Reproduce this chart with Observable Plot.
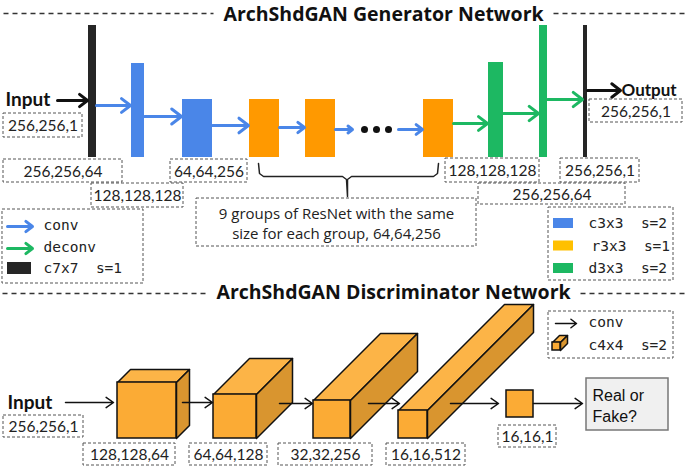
<!DOCTYPE html>
<html><head><meta charset="utf-8">
<script src="https://cdn.jsdelivr.net/npm/d3@7"></script>
<script src="https://cdn.jsdelivr.net/npm/@observablehq/plot@0.6"></script>
<style>body{margin:0;background:#fff} svg{display:block}</style>
</head><body><div id="chart"></div>
<script>
// ---------- content (data) ----------
const genTitle = "ArchShdGAN Generator Network";
const discTitle = "ArchShdGAN Discriminator Network";
const genKinds = ["c7x7","c3x3","c3x3","r3x3","r3x3","r3x3","d3x3","d3x3","c7x7"];
const genArrowKinds = ["conv","conv","conv","conv","conv","conv","deconv","deconv","deconv"];
const genLabels = ["256,256,1","256,256,1","256,256,64","128,128,128","64,64,256","128,128,128","256,256,1","256,256,64"];
const discLabels = ["256,256,1","128,128,64","64,64,128","32,32,256","16,16,512","16,16,1"];
const genLegendArrows = ["conv","deconv"];
const genLegendBlocks = ["c3x3\u00a0 s=2","r3x3\u00a0 s=1","d3x3\u00a0 s=2"];
const resnetNote = "9 groups of ResNet with the same\nsize for each group, 64,64,256";
const output = "Real or\nFake?";

// ---------- layout (diagram coordinates) ----------
const colorOf = {c7x7:"#262626", c3x3:"#4a86e8", r3x3:"#ff9900", d3x3:"#1db862", conv:"#4a86e8", deconv:"#1db862"};
const genBarPos = [[88,96,25,157],[131,144,63,157],[182,212,99,157],[249,279,99,157],[305,335,99,157],[423,453,99,157],[488,503,62,157],[539,547,25,157],[583,587,25,157]];
const genArrowPos = [[96,130,105],[144,181,116],[212,248,125],[279,304,127],[335,352,129],[398,422,129],[453,487,123],[503,538,113],[547,582,99]];
const genLabelPos = [[3,82,113,137],[589,682,99,122],[3,122,159,182],[91,183,183,207],[170,247,159,182],[445,539,158,182],[560,639,158,182],[478,625,183,204]];
const discLabelPos = [[3,83,415,437],[83,175,443,465],[189,267,443,465],[278,372,443,465],[386,465,443,465],[498,556,425,447]];
const cubePos = [[117,176,382,438,13],[213,256,394,438,36],[313,350,400,438,67],[398,427,410,438,106],[552,560,342,350,7]];
const discArrowPos = [[65,113,402],[182,212,402],[279,312,403],[368,399,403],[450,498,403],[533,582,403]];

const genBars = genKinds.map((k,i)=>({kind:k, x1:genBarPos[i][0], x2:genBarPos[i][1], y1:genBarPos[i][2], y2:genBarPos[i][3]}));
const genArrows = genArrowKinds.map((k,i)=>({kind:k, x1:genArrowPos[i][0], x2:genArrowPos[i][1], y:genArrowPos[i][2]}));
const boxes = genLabels.map((t,i)=>({t, x1:genLabelPos[i][0], x2:genLabelPos[i][1], y1:genLabelPos[i][2], y2:genLabelPos[i][3]}))
  .concat(discLabels.map((t,i)=>({t, x1:discLabelPos[i][0], x2:discLabelPos[i][1], y1:discLabelPos[i][2], y2:discLabelPos[i][3]})));
const frames = [{x1:2,x2:143,y1:209,y2:283},{x1:548,x2:673,y1:207,y2:280},{x1:548,x2:673,y1:311,y2:358},{x1:196,x2:476,y1:198,y2:246}];

// cube faces
const cubes = cubePos.map(([x1,x2,y1,y2,d],i)=>({i,x1,x2,y1,y2,d}));
const topFaces = cubes.flatMap(c=>[[c.x1,c.y1],[c.x1+c.d,c.y1-c.d],[c.x2+c.d,c.y1-c.d],[c.x2,c.y1]].map(p=>({i:c.i,x:p[0],y:p[1]})));
const sideFaces = cubes.flatMap(c=>[[c.x2,c.y1],[c.x2+c.d,c.y1-c.d],[c.x2+c.d,c.y2-c.d],[c.x2,c.y2]].map(p=>({i:c.i,x:p[0],y:p[1]})));

const brace = [[258,163],[259,173],[263,176],[342,176],[346,179],[347,196],[347,179],[351,176],[433,176],[437,173],[438,163]].map(([x,y])=>({x,y}));
const dots = [364,376,388].map(x=>({x,y:129}));

const F = "Lato, 'Open Sans', sans-serif";
const O = "'Open Sans', Lato, sans-serif";
const M = "'DejaVu Sans Mono', monospace";
const arrowOpts = {headLength:11, headAngle:75, strokeWidth:3};

const marks = [
  // title dashed lines
  Plot.link([{x1:3,x2:213,y:13},{x1:553,x2:685,y:13},{x1:2,x2:207,y:293},{x1:580,x2:685,y:293}],
    {x1:"x1",x2:"x2",y1:"y",y2:"y",stroke:"#333",strokeWidth:1.5,strokeDasharray:"5,4"}),
  Plot.text([genTitle],{x:383,y:14,text:d=>d,fontSize:19.5,fontWeight:"bold",fontFamily:O,fill:"#111"}),
  Plot.text([discTitle],{x:393,y:292,text:d=>d,fontSize:19.5,fontWeight:"bold",fontFamily:O,fill:"#111"}),

  // generator bars
  Plot.rect(genBars,{x1:"x1",x2:"x2",y1:"y1",y2:"y2",fill:d=>colorOf[d.kind]}),
  Plot.arrow(genArrows,{x1:"x1",x2:"x2",y1:"y",y2:"y",stroke:d=>colorOf[d.kind],...arrowOpts}),
  Plot.dot(dots,{x:"x",y:"y",r:3.5,fill:"#111",stroke:null}),
  Plot.arrow([{x1:57,x2:87,y:100},{x1:587,x2:620,y:90}],{x1:"x1",x2:"x2",y1:"y",y2:"y",stroke:"#111",...arrowOpts}),
  Plot.text(["Input"],{x:5,y:99,text:d=>d,textAnchor:"start",fontSize:19,fontWeight:"bold",fontFamily:F,fill:"#111"}),
  Plot.text(["Output"],{x:621,y:90,text:d=>d,textAnchor:"start",fontSize:17,fontWeight:"bold",fontFamily:F,fill:"#111"}),

  // brace + note
  Plot.line(brace,{x:"x",y:"y",stroke:"#222",strokeWidth:1.5}),
  Plot.text([resnetNote],{x:336,y:222,text:d=>d,fontSize:15,lineHeight:1.3,fontFamily:O,fill:"#222"}),

  // dashed boxes
  Plot.rect(boxes.concat(frames),{x1:"x1",x2:"x2",y1:"y1",y2:"y2",fill:"none",stroke:"#555",strokeWidth:1,strokeDasharray:"3,2"}),
  Plot.text(boxes,{x:d=>(d.x1+d.x2)/2,y:d=>(d.y1+d.y2)/2+1,text:"t",fontSize:15.5,fontFamily:F,fill:"#222"}),

  // generator legend (left)
  Plot.arrow(genLegendArrows.map((k,i)=>({k,y:226+i*22})),{x1:7,x2:32,y1:"y",y2:"y",stroke:d=>colorOf[d.k],...arrowOpts}),
  Plot.rect([{x1:7,x2:31,y1:262,y2:274}],{x1:"x1",x2:"x2",y1:"y1",y2:"y2",fill:"#262626"}),
  Plot.text(genLegendArrows.concat(["c7x7\u00a0 s=1"]).map((t,i)=>({t,y:225+i*21.5})),{x:43,y:"y",text:"t",textAnchor:"start",fontSize:14.5,fontFamily:M,fill:"#222"}),

  // generator legend (right)
  Plot.rect(genLegendBlocks.map((t,i)=>({i,y1:218+i*22.5,y2:228+i*22.5})),{x1:553,x2:573,y1:"y1",y2:"y2",fill:d=>["#4a86e8","#ffc000","#1db862"][d.i]}),
  Plot.text(genLegendBlocks.map((t,i)=>({t,i,y:223+i*22.5})),{x:d=>d.i===1?591:588,y:"y",text:"t",textAnchor:"start",fontSize:14.5,fontFamily:M,fill:"#222"}),

  // discriminator cubes
  Plot.line(topFaces,{x:"x",y:"y",z:"i",fill:"#fcb447",stroke:"#111",strokeWidth:1.5,curve:"linear-closed",strokeLinejoin:"round"}),
  Plot.line(sideFaces,{x:"x",y:"y",z:"i",fill:"#d9952f",stroke:"#111",strokeWidth:1.5,curve:"linear-closed",strokeLinejoin:"round"}),
  Plot.rect(cubes.concat([{x1:506,x2:533,y1:390,y2:417}]),{x1:"x1",x2:"x2",y1:"y1",y2:"y2",fill:"#fbab35",stroke:"#111",strokeWidth:1.5}),
  Plot.arrow(discArrowPos.map(([x1,x2,y])=>({x1,x2,y})),{x1:"x1",x2:"x2",y1:"y",y2:"y",stroke:"#111",strokeWidth:1.5,headLength:9,headAngle:70}),
  Plot.text(["Input"],{x:7,y:402,text:d=>d,textAnchor:"start",fontSize:19,fontWeight:"bold",fontFamily:F,fill:"#111"}),

  // real or fake
  Plot.rect([{x1:586,x2:668,y1:378,y2:430}],{x1:"x1",x2:"x2",y1:"y1",y2:"y2",fill:"#f0f0f0",stroke:"#777",strokeWidth:1.5}),
  Plot.text([output],{x:592,y:404,text:d=>d,textAnchor:"start",fontSize:16,lineHeight:1.35,fontFamily:"'Liberation Sans', Arial, sans-serif",fill:"#111"}),

  // discriminator legend
  Plot.arrow([{x1:555,x2:576,y:323}],{x1:"x1",x2:"x2",y1:"y",y2:"y",stroke:"#111",strokeWidth:1.5,headLength:8,headAngle:75}),
  Plot.text(["conv","c4x4\u00a0 s=2"].map((t,i)=>({t,y:322+i*23})),{x:588,y:"y",text:"t",textAnchor:"start",fontSize:14.5,fontFamily:M,fill:"#222"})
];

const chart = Plot.plot({
  width:685, height:467, margin:0,
  x:{domain:[0,685], range:[0,685], axis:null},
  y:{domain:[0,467], range:[0,467], axis:null},
  style:{background:"#fff", overflow:"visible"},
  marks
});
document.getElementById("chart").append(chart);
</script>
</body></html>
